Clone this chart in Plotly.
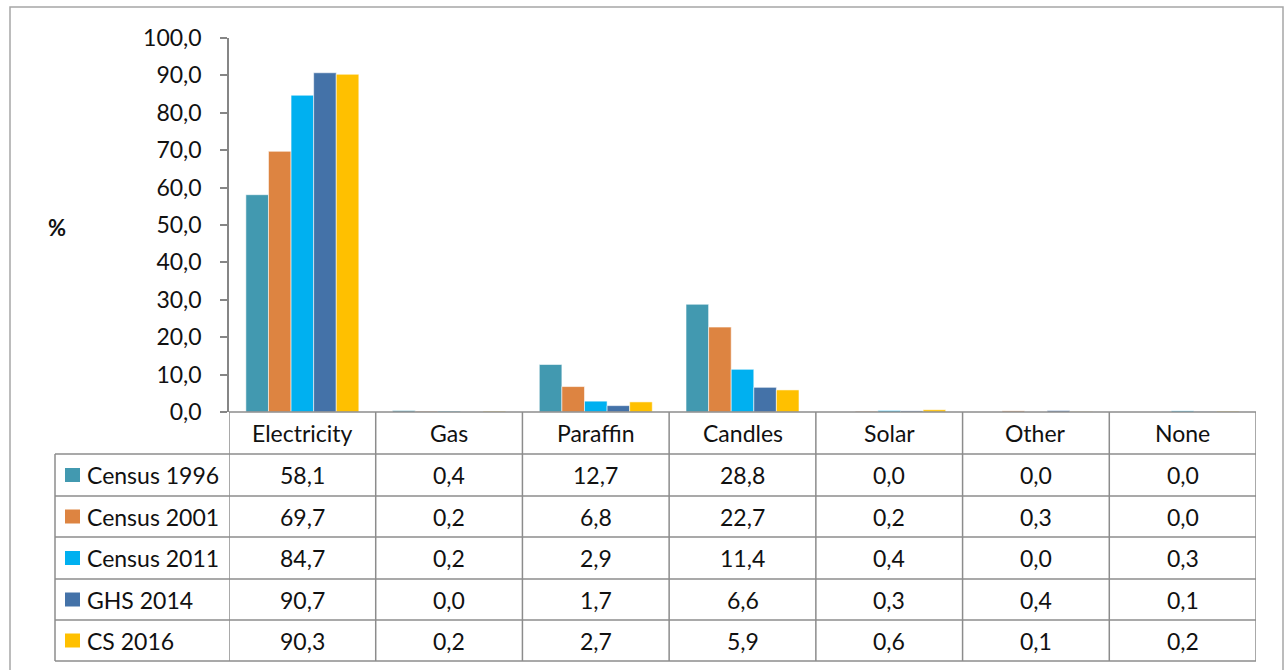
import plotly.graph_objects as go

# Source of lighting by survey (% of households)
categories = ["Electricity", "Gas", "Paraffin", "Candles", "Solar", "Other", "None"]
series_names = ["Census 1996", "Census 2001", "Census 2011", "GHS 2014", "CS 2016"]
census_1996 = [58.1, 0.4, 12.7, 28.8, 0.0, 0.0, 0.0]
census_2001 = [69.7, 0.2, 6.8, 22.7, 0.2, 0.3, 0.0]
census_2011 = [84.7, 0.2, 2.9, 11.4, 0.4, 0.0, 0.3]
ghs_2014 = [90.7, 0.0, 1.7, 6.6, 0.3, 0.4, 0.1]
cs_2016 = [90.3, 0.2, 2.7, 5.9, 0.6, 0.1, 0.2]
y_ticks = [0, 10, 20, 30, 40, 50, 60, 70, 80, 90, 100]

series_values = [census_1996, census_2001, census_2011, ghs_2014, cs_2016]
colors = ["#4299B0", "#DD8441", "#00B0F0", "#4472A8", "#FFC000"]

W, H = 1287, 670
FONT = "Lato"
FS = 23
GRID = "#8C8C8C"
TXT = "#111111"


def px(x):
    return x / W


def py(y):
    return 1 - y / H


def fmt(v):
    return f"{v:.1f}".replace(".", ",")


fig = go.Figure()
for name, vals, col in zip(series_names, series_values, colors):
    fig.add_trace(go.Bar(
        x=categories, y=vals, name=name,
        marker=dict(color=col, line=dict(color="rgba(255,255,255,0.55)", width=1)),
        showlegend=False,
    ))

# table geometry (pixels)
header_top, header_bot = 412, 454
row_edges = [454, 496, 537, 579, 620, 661]
table_left = 55

shapes = []
annotations = []

# outer chart border
shapes.append(dict(type="rect", xref="paper", yref="paper",
                   x0=px(10), x1=px(1283), y0=py(685), y1=py(7),
                   line=dict(color="#A6A6A6", width=1.5), fillcolor="rgba(0,0,0,0)"))

n = len(categories)
# vertical table lines between categories
for i in range(n + 1):
    shapes.append(dict(type="line", xref="x", yref="paper",
                       x0=i - 0.5, x1=i - 0.5, y0=py(header_top), y1=py(row_edges[-1]),
                       line=dict(color=GRID, width=1.5)))
# left edge of the legend column
shapes.append(dict(type="line", xref="paper", yref="paper",
                   x0=px(table_left), x1=px(table_left), y0=py(row_edges[0]), y1=py(row_edges[-1]),
                   line=dict(color=GRID, width=1.5)))
# header top line spans only the category columns
shapes.append(dict(type="line", xref="x", yref="paper",
                   x0=-0.5, x1=n - 0.5, y0=py(header_top), y1=py(header_top),
                   line=dict(color=GRID, width=1.5)))
# row lines
for ye in row_edges:
    shapes.append(dict(type="line", xref="paper", yref="paper",
                       x0=px(table_left), x1=px(1256), y0=py(ye), y1=py(ye),
                       line=dict(color=GRID, width=1.5)))

# header labels
for c in categories:
    annotations.append(dict(x=c, xref="x", y=py((header_top + header_bot) / 2), yref="paper",
                            text=c, showarrow=False, xanchor="center", yanchor="middle",
                            font=dict(family=FONT, size=FS, color=TXT)))

# data rows
for r, (name, vals, col) in enumerate(zip(series_names, series_values, colors)):
    yc = (row_edges[r] + row_edges[r + 1]) / 2
    shapes.append(dict(type="rect", xref="paper", yref="paper",
                       x0=px(65), x1=px(80), y0=py(yc + 7), y1=py(yc - 7),
                       line=dict(width=0), fillcolor=col))
    annotations.append(dict(x=px(85), xref="paper", y=py(yc), yref="paper",
                            text=name, showarrow=False, xanchor="left", yanchor="middle",
                            font=dict(family=FONT, size=FS, color=TXT)))
    for c, v in zip(categories, vals):
        annotations.append(dict(x=c, xref="x", y=py(yc), yref="paper",
                                text=fmt(v), showarrow=False, xanchor="center", yanchor="middle",
                                font=dict(family=FONT, size=FS, color=TXT)))

# y-axis title
annotations.append(dict(x=px(57), xref="paper", y=py(228), yref="paper", text="<b>%</b>",
                        showarrow=False, xanchor="center", yanchor="middle",
                        font=dict(family=FONT, size=22, color=TXT)))

fig.update_layout(
    width=W, height=H,
    margin=dict(l=0, r=0, t=0, b=0, autoexpand=False),
    paper_bgcolor="white", plot_bgcolor="white",
    barmode="group", bargap=0.23, bargroupgap=0,
    separators=",.",
    font=dict(family=FONT, size=FS, color=TXT),
    xaxis=dict(domain=[px(229), px(1256)], range=[-0.5, n - 0.5], showticklabels=False,
               showgrid=False, zeroline=False, showline=False, ticks=""),
    yaxis=dict(domain=[py(412), py(38)], range=[0, 100], tickvals=y_ticks, tickformat=".1f",
               showgrid=False, zeroline=False, showline=True, linecolor="#868686", linewidth=1.5,
               ticks="outside", ticklen=7, tickwidth=1.5, tickcolor="#868686",
               ticklabelstandoff=14,
               tickfont=dict(family=FONT, size=FS, color=TXT)),
    shapes=shapes,
    annotations=annotations,
)

fig.write_html("out.html")
